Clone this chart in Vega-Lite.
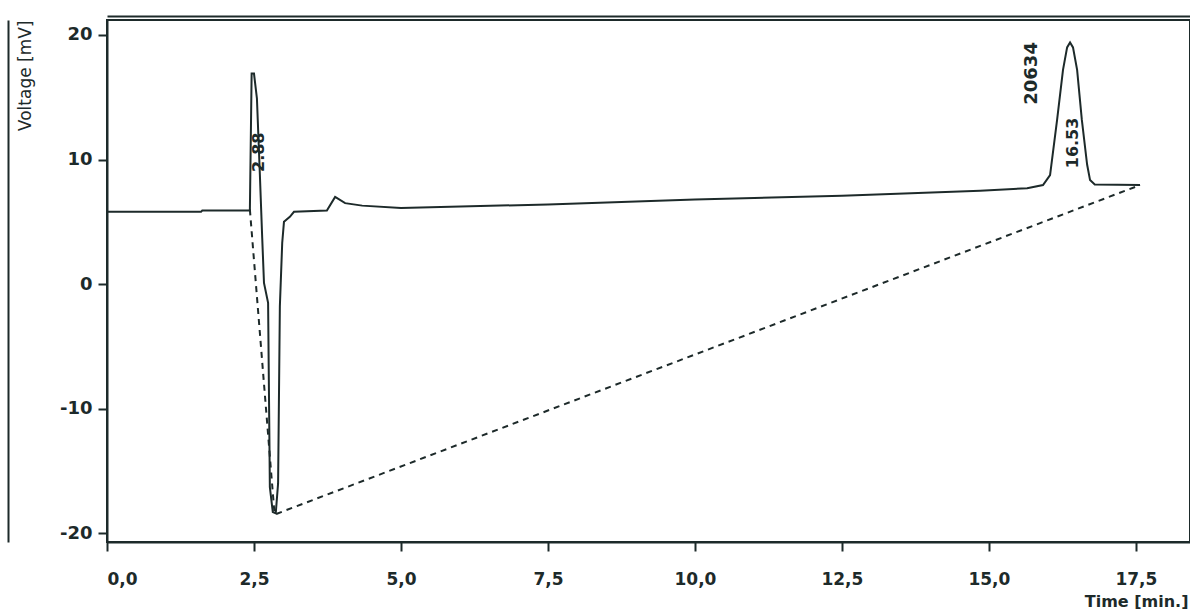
{
  "$schema": "https://vega.github.io/schema/vega-lite/v6.json",
  "width": 1083,
  "height": 522,
  "autosize": {"type": "none"},
  "padding": {"left": 107, "top": 20, "right": 0, "bottom": 67},
  "background": "white",
  "config": {
    "view": {"stroke": "#1d2a2a", "strokeWidth": 2},
    "font": "DejaVu Sans"
  },
  "datasets": {
    "signal": [
      {"t": 0, "v": 5.8}, {"t": 0.8, "v": 5.8}, {"t": 1.6, "v": 5.8}, {"t": 1.62, "v": 5.9},
      {"t": 2.43, "v": 5.9}, {"t": 2.46, "v": 16.9}, {"t": 2.5, "v": 16.9}, {"t": 2.55, "v": 14.9},
      {"t": 2.6, "v": 8.8}, {"t": 2.64, "v": 3.7}, {"t": 2.67, "v": 0.1}, {"t": 2.74, "v": -1.5},
      {"t": 2.77, "v": -16.3}, {"t": 2.82, "v": -18.3}, {"t": 2.87, "v": -18.4}, {"t": 2.91, "v": -16.0},
      {"t": 2.94, "v": -1.8}, {"t": 2.98, "v": 3.3}, {"t": 3.01, "v": 5.0}, {"t": 3.11, "v": 5.4},
      {"t": 3.18, "v": 5.8}, {"t": 3.74, "v": 5.9}, {"t": 3.88, "v": 7.0}, {"t": 4.05, "v": 6.5},
      {"t": 4.34, "v": 6.3}, {"t": 5.0, "v": 6.1}, {"t": 7.5, "v": 6.4}, {"t": 10.0, "v": 6.8},
      {"t": 12.5, "v": 7.1}, {"t": 14.85, "v": 7.5}, {"t": 15.65, "v": 7.7}, {"t": 15.92, "v": 7.95},
      {"t": 16.04, "v": 8.75}, {"t": 16.16, "v": 13.2}, {"t": 16.26, "v": 17.2}, {"t": 16.33, "v": 19.0},
      {"t": 16.38, "v": 19.4}, {"t": 16.43, "v": 19.0}, {"t": 16.5, "v": 17.2}, {"t": 16.58, "v": 13.2},
      {"t": 16.67, "v": 9.6}, {"t": 16.72, "v": 8.35}, {"t": 16.8, "v": 8.0}, {"t": 17.57, "v": 7.95}
    ],
    "baseline": [
      {"t": 2.43, "v": 6.0}, {"t": 2.85, "v": -18.5}, {"t": 17.57, "v": 7.95}
    ],
    "labels": [
      {"t": 2.59, "v": 9.0, "text": "2.88", "size": 16},
      {"t": 15.74, "v": 14.4, "text": "20634", "size": 18},
      {"t": 16.43, "v": 9.3, "text": "16.53", "size": 16}
    ]
  },
  "resolve": {"axis": {"x": "independent", "y": "independent"}},
  "layer": [
    {
      "data": {"name": "signal"},
      "mark": {"type": "line", "color": "#1d2a2a", "strokeWidth": 2, "interpolate": "linear"},
      "encoding": {
        "x": {
          "field": "t", "type": "quantitative",
          "scale": {"domain": [0, 18.42], "nice": false, "zero": false},
          "axis": {
            "values": [0, 2.5, 5, 7.5, 10, 12.5, 15, 17.5],
            "labelExpr": "replace(format(datum.value, '.1f'), '.', ',')",
            "grid": false, "domainColor": "#1d2a2a", "domainWidth": 2,
            "tickColor": "#1d2a2a", "tickWidth": 2, "tickSize": 9,
            "labelFont": "DejaVu Sans", "labelFontSize": 17, "labelFontWeight": "bold",
            "labelColor": "#1d2a2a", "labelPadding": 20,
            "title": "Time [min.]", "titleFont": "DejaVu Sans", "titleFontSize": 16,
            "titleFontWeight": "bold", "titleColor": "#1d2a2a",
            "titleAnchor": "start", "titleAlign": "right", "titleBaseline": "middle",
            "titleX": 1081, "titleY": 59
          }
        },
        "y": {
          "field": "v", "type": "quantitative",
          "scale": {"domain": [-20.7, 21.2], "nice": false, "zero": false},
          "axis": {
            "values": [-20, -10, 0, 10, 20],
            "labelExpr": "datum.value < 0 ? '-' + abs(datum.value) : '' + datum.value",
            "grid": false, "domainColor": "#1d2a2a", "domainWidth": 2,
            "tickColor": "#1d2a2a", "tickWidth": 2, "tickSize": 9,
            "labelFont": "DejaVu Sans", "labelFontSize": 18, "labelFontWeight": "bold",
            "labelColor": "#1d2a2a", "labelPadding": 6,
            "title": "Voltage [mV]", "titleFont": "DejaVu Sans", "titleFontSize": 17,
            "titleFontWeight": "normal", "titleColor": "#1d2a2a",
            "titleAngle": 270, "titleAlign": "right", "titleBaseline": "alphabetic",
            "titleX": -77, "titleY": 0
          }
        }
      }
    },
    {
      "data": {"name": "baseline"},
      "mark": {"type": "line", "color": "#1d2a2a", "strokeWidth": 2, "strokeDash": [6, 5]},
      "encoding": {
        "x": {
          "field": "t", "type": "quantitative",
          "scale": {"domain": [0, 18.42], "nice": false, "zero": false},
          "axis": {"orient": "top", "offset": 4, "labels": false, "ticks": false, "grid": false,
                   "title": null, "domainColor": "#1d2a2a", "domainWidth": 2}
        },
        "y": {
          "field": "v", "type": "quantitative",
          "scale": {"domain": [-20.7, 21.2], "nice": false, "zero": false},
          "axis": {"orient": "right", "offset": -1182, "labels": false, "ticks": false, "grid": false,
                   "title": null, "domainColor": "#1d2a2a", "domainWidth": 2}
        }
      }
    },
    {
      "data": {"name": "labels"},
      "mark": {"type": "text", "angle": 270, "align": "left", "baseline": "middle",
               "font": "DejaVu Sans", "fontWeight": "bold", "color": "#1d2a2a"},
      "encoding": {
        "x": {"field": "t", "type": "quantitative", "scale": {"domain": [0, 18.42], "nice": false, "zero": false}, "axis": null},
        "y": {"field": "v", "type": "quantitative", "scale": {"domain": [-20.7, 21.2], "nice": false, "zero": false}, "axis": null},
        "text": {"field": "text"},
        "size": {"field": "size", "type": "quantitative", "scale": null, "legend": null}
      }
    }
  ]
}
